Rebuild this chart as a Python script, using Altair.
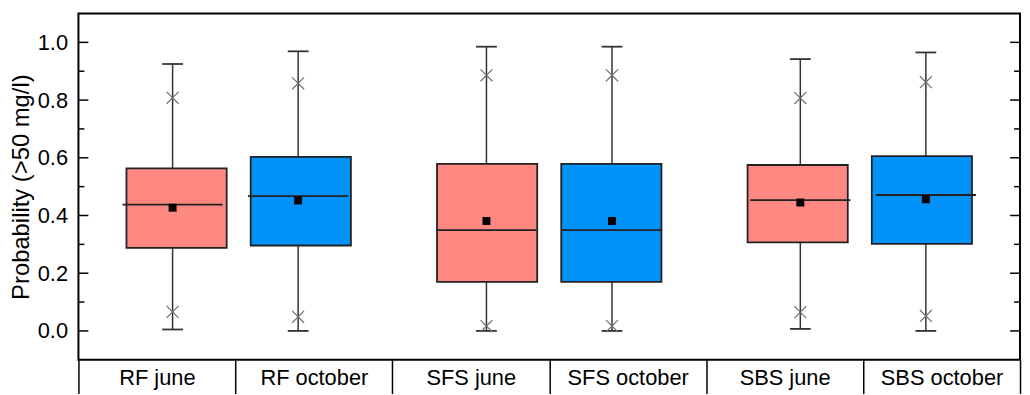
import altair as alt
import pandas as pd

# ---- data ----
categories = ["RF june", "RF october", "SFS june", "SFS october", "SBS june", "SBS october"]
positions = [1, 2, 3.5, 4.5, 6, 7]
season = ["june", "october", "june", "october", "june", "october"]
whisk_lo = [0.005, 0.000, 0.000, 0.000, 0.007, 0.000]
p_lo = [0.066, 0.049, 0.017, 0.017, 0.065, 0.052]
q1 = [0.288, 0.296, 0.170, 0.170, 0.307, 0.302]
median = [0.438, 0.467, 0.349, 0.349, 0.453, 0.471]
mean = [0.427, 0.452, 0.381, 0.381, 0.445, 0.456]
q3 = [0.563, 0.603, 0.579, 0.579, 0.575, 0.606]
p_hi = [0.808, 0.858, 0.886, 0.886, 0.807, 0.862]
whisk_hi = [0.925, 0.969, 0.985, 0.985, 0.942, 0.965]

y_major = [0.0, 0.2, 0.4, 0.6, 0.8, 1.0]
y_minor = [0.1, 0.3, 0.5, 0.7, 0.9]

W, H = 949, 349
FONT = "Liberation Sans"

df = pd.DataFrame({
    "cat": categories, "pos": positions, "season": season,
    "wlo": whisk_lo, "plo": p_lo, "q1": q1, "med": median,
    "mean": mean, "q3": q3, "phi": p_hi, "whi": whisk_hi,
})
caps = pd.DataFrame({"pos": positions * 2, "v": whisk_lo + whisk_hi})
xs = pd.DataFrame({"pos": positions * 2, "v": p_lo + p_hi})
tmaj = pd.DataFrame({"v": y_major})
tmin = pd.DataFrame({"v": y_minor})

xscale = alt.Scale(domain=[0.25, 7.75], nice=False, zero=False)
yscale = alt.Scale(domain=[-0.1, 1.1], nice=False, zero=False)

X = alt.X("pos:Q", scale=xscale, axis=None)
yaxis = alt.Axis(values=y_major, format=".1f", ticks=False, domain=False, grid=False,
                 labelPadding=11, labelFontSize=22, labelFont=FONT, labelColor="black",
                 title="Probability (>50 mg/l)", titleFontSize=24, titleFont=FONT,
                 titleFontWeight="normal", titleColor="black", titlePadding=4)

color = alt.Color("season:N", scale=alt.Scale(domain=["june", "october"],
                                              range=["#FF8882", "#0091F9"]), legend=None)

whisk = alt.Chart(df).mark_rule(color="#333333", strokeWidth=1.5).encode(
    x=X, y=alt.Y("wlo:Q", scale=yscale, axis=yaxis), y2="whi:Q")
cap = alt.Chart(caps).mark_tick(orient="horizontal", size=21, thickness=1.8, color="#333333",
                                opacity=1).encode(
    x=X, y=alt.Y("v:Q", scale=yscale))
box = alt.Chart(df).mark_bar(size=101, stroke="#222222", strokeWidth=1.8).encode(
    x=X, y=alt.Y("q1:Q", scale=yscale), y2="q3:Q", color=color)
med = alt.Chart(df).mark_tick(orient="horizontal", size=101, thickness=1.8, color="#222222",
                              opacity=1).encode(
    x=X, y=alt.Y("med:Q", scale=yscale))
mn = alt.Chart(df).mark_square(size=64, color="black", opacity=1).encode(
    x=X, y=alt.Y("mean:Q", scale=yscale))
xm = alt.Chart(xs).mark_point(shape="M-1,-1L1,1M-1,1L1,-1", size=144, color="#707070",
                              strokeWidth=1.2, filled=False, opacity=1).encode(
    x=X, y=alt.Y("v:Q", scale=yscale))

tl_maj = alt.Chart(tmaj).mark_rule(color="black", strokeWidth=1.5).encode(
    y=alt.Y("v:Q", scale=yscale), x=alt.value(0), x2=alt.value(10))
tl_min = alt.Chart(tmin).mark_rule(color="black", strokeWidth=1.5).encode(
    y=alt.Y("v:Q", scale=yscale), x=alt.value(0), x2=alt.value(6))
tr_maj = alt.Chart(tmaj).mark_rule(color="black", strokeWidth=1.5).encode(
    y=alt.Y("v:Q", scale=yscale), x=alt.value(W - 10), x2=alt.value(W))
tr_min = alt.Chart(tmin).mark_rule(color="black", strokeWidth=1.5).encode(
    y=alt.Y("v:Q", scale=yscale), x=alt.value(W - 6), x2=alt.value(W))

labels = alt.Chart(df).mark_point(opacity=0).encode(
    x=alt.X("cat:N", sort=categories,
            scale=alt.Scale(paddingInner=0, paddingOuter=0),
            axis=alt.Axis(orient="bottom", tickBand="extent", tickSize=34, tickWidth=1.5,
                          tickColor="black", domain=False, labelAngle=0, labelBaseline="middle",
                          labelPadding=-16, labelFontSize=22, labelFont=FONT,
                          labelColor="black", title=None)),
)

chart = alt.layer(
    whisk, cap, box, med, mn, xm, tl_maj, tl_min, tr_maj, tr_min, labels
).resolve_scale(x="independent").properties(
    width=W, height=H,
    autosize=alt.AutoSizeParams(type="none"),
    padding={"left": 71, "top": 4, "right": 2, "bottom": 40},
).configure_view(stroke="black", strokeWidth=2)

chart.save("out.html", embed_options={"renderer": "svg", "actions": False})
